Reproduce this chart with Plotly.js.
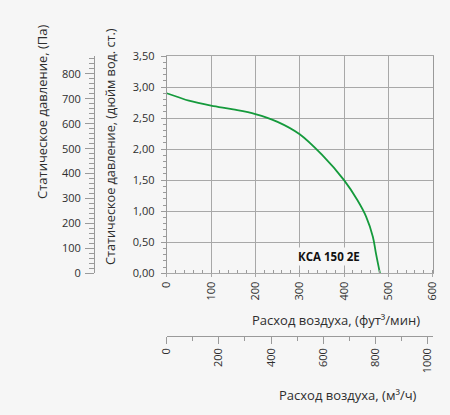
<!DOCTYPE html>
<html>
<head>
<meta charset="utf-8">
<script src="https://cdn.plot.ly/plotly-3.0.1.min.js"></script>
<style>html,body{margin:0;padding:0;background:#f6f6f6;}#chart{width:450px;height:415px;}</style>
</head>
<body>
<div id="chart"></div>
<script>
// Air flow (cfm) and static pressure (in. H2O)
const airflowCfm = [0, 25, 50, 100, 150, 200, 250, 300, 350, 400, 430, 450, 465, 472, 481];
const pressureInH2O = [2.90, 2.84, 2.78, 2.70, 2.64, 2.565, 2.44, 2.24, 1.91, 1.50, 1.18, 0.91, 0.59, 0.32, 0.00];
const modelName = "КСА 150 2E";
const cfmTitle = "Расход воздуха, (фут³/мин)";
const m3hTitle = "Расход воздуха, (м³/ч)";
const paTitle = "Статическое давление, (Па)";
const inTitle = "Статическое давление, (дюйм вод. ст.)";
const cfmRange = [0, 600];
const inRange = [0, 3.5];
const CFM_TO_M3H = 1.699;
const IN_TO_PA = 249.09;

const W = 450, H = 415, ML = 10, MR = 10, MT = 10, MB = 10;
const PW = W - ML - MR, PH = H - MT - MB;
const px = v => (v - ML) / PW;
const py = v => (H - MB - v) / PH;

const gridC = '#a8a8a8', lineC = '#9a9a9a', txtC = '#2e2e2e';
const font = {family: 'Open Sans, sans-serif', size: 11, color: txtC};
const titleFont = {family: 'Open Sans, sans-serif', size: 13, color: txtC};

const trace = {
  x: airflowCfm, y: pressureInH2O, type: 'scatter', mode: 'lines',
  line: {color: '#159a3c', width: 1.8, shape: 'spline', smoothing: 1},
  xaxis: 'x', yaxis: 'y', hoverinfo: 'skip', showlegend: false
};
// invisible helper traces to activate secondary axes
const tPa = {x: [0], y: [0], xaxis: 'x', yaxis: 'y2', mode: 'markers', marker: {opacity: 0}, showlegend: false, hoverinfo: 'skip'};
const tM3 = {x: [0], y: [0], xaxis: 'x2', yaxis: 'y', mode: 'markers', marker: {opacity: 0}, showlegend: false, hoverinfo: 'skip'};

const layout = {
  width: W, height: H,
  margin: {l: ML, r: MR, t: MT, b: MB},
  paper_bgcolor: '#f6f6f6', plot_bgcolor: '#f6f6f6',
  separators: ', ',
  font: font,
  showlegend: false,
  xaxis: {
    domain: [px(166.7), px(432.7)], anchor: 'y',
    range: cfmRange, dtick: 100, tick0: 0,
    showgrid: true, gridcolor: gridC, gridwidth: 1,
    showline: true, linecolor: gridC, mirror: true, zeroline: false,
    ticks: 'outside', ticklen: 3, tickcolor: gridC, tickangle: -90,
    minor: {ticks: 'inside', dtick: 20, ticklen: 3, tickcolor: lineC, showgrid: false},
    tickfont: font, fixedrange: true
  },
  yaxis: {
    domain: [py(273.3), py(56)], anchor: 'x',
    range: inRange, dtick: 0.5, tick0: 0, tickformat: '.2f',
    showgrid: true, gridcolor: gridC, gridwidth: 1,
    showline: true, linecolor: lineC, mirror: true, zeroline: false,
    ticks: 'outside', ticklen: 5, tickcolor: lineC, ticklabelstandoff: 4,
    minor: {ticks: 'outside', dtick: 0.1, ticklen: 3, tickcolor: lineC, showgrid: false},
    tickfont: font, fixedrange: true
  },
  xaxis2: {
    overlaying: 'x', anchor: 'free', position: py(335.7), side: 'bottom',
    range: [cfmRange[0] * CFM_TO_M3H, cfmRange[1] * CFM_TO_M3H], dtick: 200, tick0: 0,
    showgrid: false, showline: true, linecolor: lineC, zeroline: false,
    ticks: 'outside', ticklen: 7, tickcolor: lineC, tickangle: -90,
    minor: {ticks: 'outside', dtick: 100, ticklen: 4, tickcolor: lineC, showgrid: false},
    tickfont: font, fixedrange: true
  },
  yaxis2: {
    overlaying: 'y', anchor: 'free', position: px(94), side: 'left',
    range: [inRange[0] * IN_TO_PA, inRange[1] * IN_TO_PA], dtick: 100, tick0: 0,
    showgrid: false, showline: true, linecolor: lineC, zeroline: false,
    ticks: 'outside', ticklen: 9, tickcolor: lineC, ticklabelstandoff: 2,
    minor: {ticks: 'outside', dtick: 20, ticklen: 5, tickcolor: lineC, showgrid: false},
    tickfont: font, fixedrange: true
  },
  annotations: [
    {text: paTitle, xref: 'paper', yref: 'paper', x: px(42), y: py(112), textangle: -90,
     showarrow: false, xanchor: 'center', yanchor: 'middle', font: titleFont},
    {text: inTitle, xref: 'paper', yref: 'paper', x: px(110), y: py(147), textangle: -90,
     showarrow: false, xanchor: 'center', yanchor: 'middle', font: {family: titleFont.family, size: 12.7, color: txtC}},
    {text: cfmTitle, xref: 'paper', yref: 'paper', x: px(422), y: py(320),
     showarrow: false, xanchor: 'right', yanchor: 'middle', font: titleFont},
    {text: m3hTitle, xref: 'paper', yref: 'paper', x: px(419), y: py(395),
     showarrow: false, xanchor: 'right', yanchor: 'middle', font: titleFont},
    {text: '<b>' + modelName + '</b>', xref: 'paper', yref: 'paper', x: px(296), y: py(256),
     showarrow: false, xanchor: 'left', yanchor: 'middle', bgcolor: '#f6f6f6', borderpad: 1,
     font: {family: font.family, size: 11.5, color: '#111111'}}
  ]
};

Plotly.newPlot('chart', [trace, tPa, tM3], layout, {staticPlot: true, displayModeBar: false});
</script>
</body>
</html>
